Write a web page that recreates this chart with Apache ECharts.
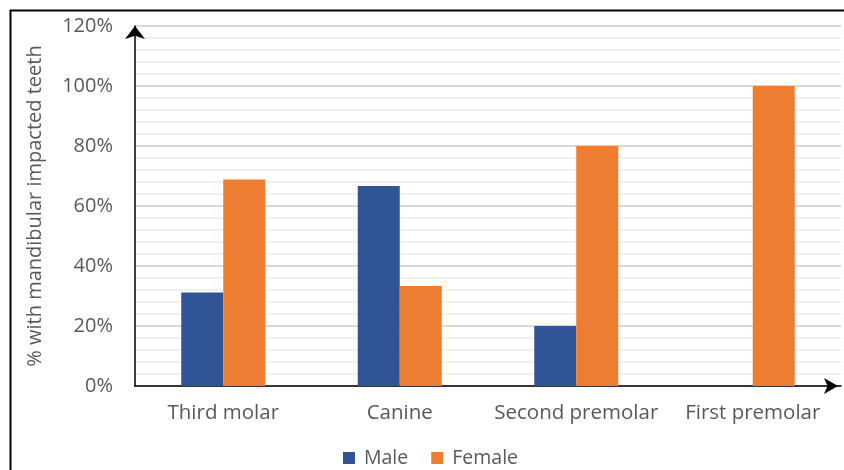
<!DOCTYPE html>
<html>
<head>
<meta charset="utf-8">
<script src="https://cdn.jsdelivr.net/npm/echarts@6/dist/echarts.min.js"></script>
<style>
  html, body { margin: 0; padding: 0; background: #fff; }
  #chart { width: 844px; height: 470px; }
</style>
</head>
<body>
<div id="chart"></div>
<script>
// Impacted mandibular teeth by type and sex (percent)
const categories = ['Third molar', 'Canine', 'Second premolar', 'First premolar'];
const maleValues = [31.2, 66.7, 20, 0];
const femaleValues = [68.8, 33.3, 80, 100];
const seriesNames = ['Male', 'Female'];
const yAxisTitle = '% with mandibular impacted teeth';

const FONT = 'Open Sans';
const TEXT_GREY = '#595959';

const chart = echarts.init(document.getElementById('chart'), null, { renderer: 'canvas' });

chart.setOption({
  animation: false,
  backgroundColor: '#ffffff',
  textStyle: { fontFamily: FONT },
  graphic: [{
    type: 'rect',
    left: 8, top: 8,
    shape: { width: 900, height: 520 },
    style: { fill: 'none', stroke: '#000', lineWidth: 2 },
    silent: true,
    z: 100
  }],
  grid: { left: 135, right: 3, top: 26, bottom: 84, containLabel: false },
  legend: {
    top: 443,
    left: 338,
    itemWidth: 12,
    itemHeight: 12,
    itemGap: 23,
    icon: 'rect',
    textStyle: { color: TEXT_GREY, fontSize: 19.5, fontFamily: FONT, padding: [0, 0, 0, 4] },
    data: seriesNames
  },
  xAxis: {
    type: 'category',
    data: categories,
    axisLine: {
      lineStyle: { color: '#000', width: 1.5 },
      symbol: ['none', 'arrow'],
      symbolSize: [12, 14],
      symbolOffset: [0, -3]
    },
    axisTick: { show: false },
    axisLabel: { color: TEXT_GREY, fontSize: 20.5, margin: 17, interval: 0, fontFamily: FONT }
  },
  yAxis: {
    type: 'value',
    min: 0,
    max: 120,
    interval: 20,
    name: yAxisTitle,
    nameLocation: 'middle',
    nameRotate: 90,
    nameGap: 90,
    nameTextStyle: { color: TEXT_GREY, fontSize: 20, fontFamily: FONT },
    axisLine: {
      show: true,
      lineStyle: { color: '#000', width: 1.5 },
      symbol: ['none', 'arrow'],
      symbolSize: [15, 13]
    },
    axisTick: { show: false },
    axisLabel: {
      color: TEXT_GREY, fontSize: 20, margin: 22, fontFamily: FONT,
      formatter: v => v + '%'
    },
    splitLine: { show: true, lineStyle: { color: '#d9d9d9', width: 2 } },
    minorTick: { show: false, splitNumber: 5 },
    minorSplitLine: { show: true, lineStyle: { color: '#efefef', width: 2 } }
  },
  series: [
    {
      name: seriesNames[0],
      type: 'bar',
      data: maleValues,
      barWidth: 42,
      barGap: '0%',
      itemStyle: { color: '#2F5597' }
    },
    {
      name: seriesNames[1],
      type: 'bar',
      data: femaleValues,
      barWidth: 42,
      barGap: '0%',
      itemStyle: { color: '#ED7D31' }
    }
  ]
});
</script>
</body>
</html>
